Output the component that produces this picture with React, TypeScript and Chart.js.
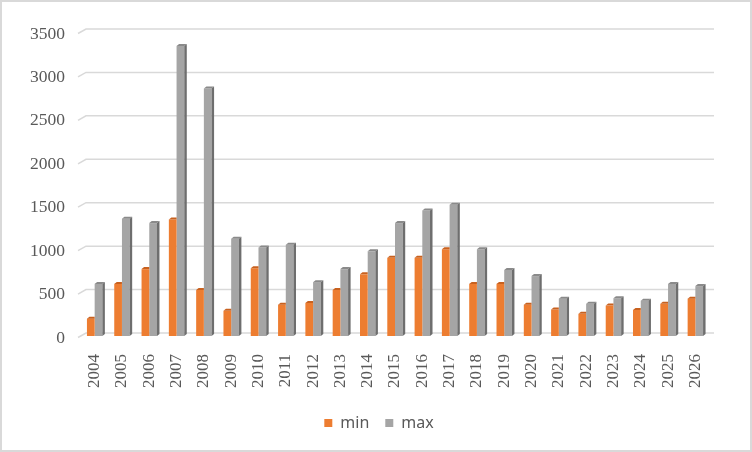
import React, { useEffect, useRef } from "react";
import { Chart, registerables } from "chart.js";

Chart.register(...registerables);

const categories = ["2004","2005","2006","2007","2008","2009","2010","2011","2012","2013","2014","2015","2016","2017","2018","2019","2020","2021","2022","2023","2024","2025","2026"];
const minValues = [200,600,770,1340,530,290,780,360,380,530,710,900,900,1000,600,600,360,305,255,350,300,370,430];
const maxValues = [600,1350,1300,3340,2850,1120,1020,1050,620,770,975,1300,1445,1510,1000,760,690,430,370,435,405,600,575];
const yTicks = [0,500,1000,1500,2000,2500,3000,3500];

const frontColors = ["#ED7D31", "#A5A5A5"];
const topColors = ["#C8611F", "#8A8A8A"];
const sideColors = ["#B45A1E", "#6E6E6E"];

const background = {
  id: "background",
  beforeDraw(chart: any) {
    const ctx = chart.ctx;
    ctx.save();
    ctx.fillStyle = "#FFFFFF";
    ctx.fillRect(0, 0, chart.width, chart.height);
    ctx.strokeStyle = "#D9D9D9";
    ctx.lineWidth = 2;
    ctx.strokeRect(1, 1, chart.width - 2, chart.height - 2);
    ctx.restore();
  },
};

const backGrid = {
  id: "backGrid",
  beforeDatasetsDraw(chart: any) {
    const ctx = chart.ctx;
    const y = chart.scales.y;
    const area = chart.chartArea;
    ctx.save();
    ctx.strokeStyle = "#D9D9D9";
    ctx.lineWidth = 1.5;
    yTicks.forEach((v) => {
      const py = y.getPixelForValue(v);
      ctx.beginPath();
      ctx.moveTo(area.left - 3, py + 1.5);
      ctx.lineTo(area.left + 5, py - 3);
      ctx.lineTo(area.right + 5, py - 3);
      ctx.stroke();
    });
    ctx.restore();
  },
};

const bar3d = {
  id: "bar3d",
  afterDatasetsDraw(chart: any) {
    const ctx = chart.ctx;
    const dx = 2.5;
    const dy = 2;
    ctx.save();
    chart.data.datasets.forEach((_: any, i: number) => {
      const meta = chart.getDatasetMeta(i);
      meta.data.forEach((el: any) => {
        const { x, y, base, width } = el.getProps(["x", "y", "base", "width"], true);
        const l = x - width / 2;
        const r = x + width / 2;
        ctx.fillStyle = topColors[i];
        ctx.beginPath();
        ctx.moveTo(l, y);
        ctx.lineTo(l + dx, y - dy);
        ctx.lineTo(r + (i === 1 ? dx : 0), y - dy);
        ctx.lineTo(r, y);
        ctx.closePath();
        ctx.fill();
        if (i === 1) {
          ctx.fillStyle = sideColors[i];
          ctx.beginPath();
          ctx.moveTo(r, y);
          ctx.lineTo(r + dx, y - dy);
          ctx.lineTo(r + dx, base - dy);
          ctx.lineTo(r, base);
          ctx.closePath();
          ctx.fill();
        }
      });
    });
    ctx.restore();
  },
};

export default function App() {
  const ref = useRef<HTMLCanvasElement | null>(null);
  useEffect(() => {
    document.body.style.margin = "0";
    if (!ref.current) return;
    const chart = new Chart(ref.current, {
      type: "bar",
      data: {
        labels: categories,
        datasets: [
          { label: "min", data: minValues, backgroundColor: frontColors[0], categoryPercentage: 0.565, barPercentage: 1.0 },
          { label: "max", data: maxValues, backgroundColor: frontColors[1], categoryPercentage: 0.565, barPercentage: 1.0 },
        ],
      },
      options: {
        animation: false,
        responsive: false,
        devicePixelRatio: 1,
        layout: { padding: { left: 6, right: 0, top: 32, bottom: 11 } },
        plugins: {
          tooltip: { enabled: false },
          legend: {
            position: "bottom",
            labels: {
              boxWidth: 8,
              boxHeight: 8,
              padding: 16,
              color: "#595959",
              font: { family: "'Noto Sans'", size: 16 },
            },
          },
        },
        scales: {
          x: {
            grid: { display: false, drawTicks: false },
            border: { display: false },
            ticks: {
              color: "#595959",
              font: { family: "'Liberation Serif'", size: 17 },
              minRotation: 90,
              maxRotation: 90,
              padding: 18,
              autoSkip: false,
            },
            afterFit(scale: any) {
              scale.height = 63;
            },
          },
          y: {
            min: 0,
            max: 3500,
            grid: { display: false, drawTicks: false },
            border: { display: false },
            ticks: {
              stepSize: 500,
              color: "#595959",
              font: { family: "'Liberation Serif'", size: 17.5 },
              padding: 16,
              labelOffset: 2,
              callback: (v: any) => String(v),
            },
            afterFit(scale: any) {
              scale.width = 75;
            },
          },
          yRight: {
            position: "right",
            grid: { display: false, drawTicks: false },
            border: { display: false },
            ticks: { display: false },
            afterFit(scale: any) {
              scale.width = 43;
            },
          },
        },
      },
      plugins: [background, backGrid, bar3d],
    });
    return () => chart.destroy();
  }, []);
  return <canvas ref={ref} width={752} height={452} style={{ display: "block", width: 752, height: 452 }} />;
}
